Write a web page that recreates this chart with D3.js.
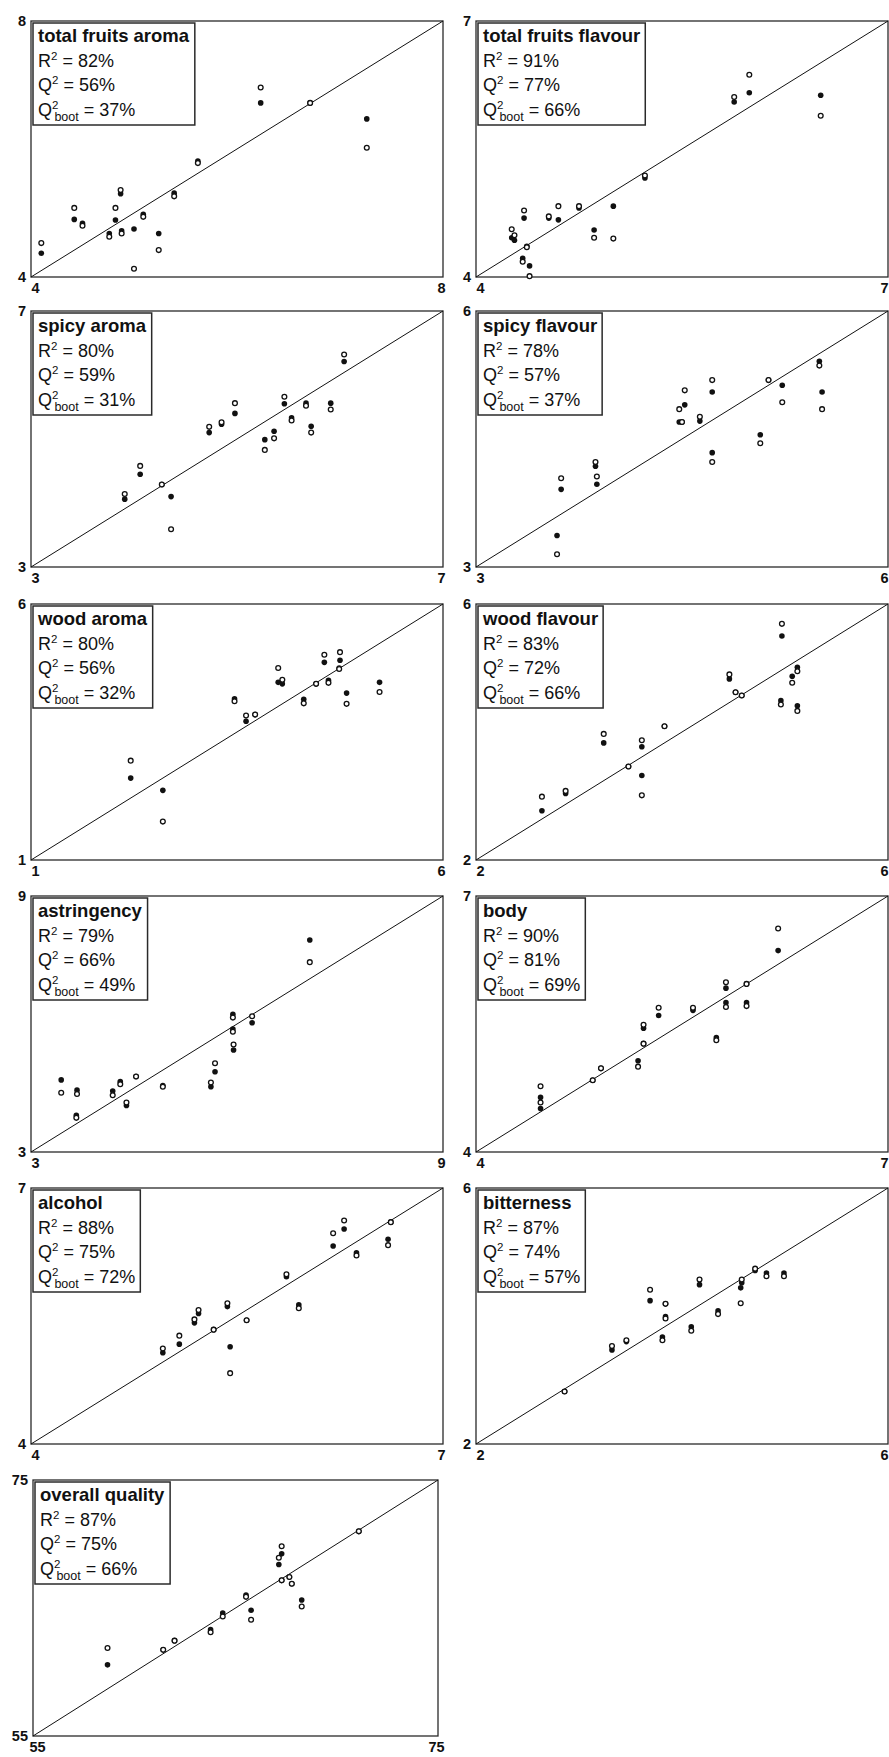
<!DOCTYPE html>
<html>
<head>
<meta charset="utf-8">
<script src="https://cdn.jsdelivr.net/npm/d3@7"></script>
<style>
  html, body { margin: 0; padding: 0; background: #fff; }
  svg { display: block; }
  text { font-family: "Liberation Sans", Arial, Helvetica, sans-serif; fill: #111; }
</style>
</head>
<body>
<svg id="chart" width="889" height="1757"></svg>
<script>
// ---------- data ----------
const panelNames = ["total fruits aroma", "total fruits flavour", "spicy aroma", "spicy flavour",
  "wood aroma", "wood flavour", "astringency", "body", "alcohol", "bitterness", "overall quality"];
const axisMin = [4, 4, 3, 3, 1, 2, 3, 4, 4, 2, 55];
const axisMax = [8, 7, 7, 6, 6, 6, 9, 7, 7, 6, 75];
const r2 = [82, 91, 80, 78, 80, 83, 79, 90, 88, 87, 87];
const q2 = [56, 77, 59, 57, 56, 72, 66, 81, 75, 74, 75];
const q2boot = [37, 66, 31, 37, 32, 66, 49, 69, 72, 57, 66];

// observed (x) values per panel
const observed = [
  [4.10, 4.42, 4.50, 4.76, 4.82, 4.87, 4.88, 5.00, 5.09, 5.24, 5.39, 5.62, 6.23, 6.71, 7.26],
  [4.26, 4.28, 4.35, 4.37, 4.34, 4.39, 4.53, 4.60, 4.75, 4.86, 5.00, 5.23, 5.88, 5.99, 6.51],
  [3.91, 4.06, 4.27, 4.36, 4.73, 4.85, 4.98, 5.27, 5.36, 5.46, 5.53, 5.67, 5.72, 5.91, 6.04],
  [3.62, 3.59, 3.87, 3.88, 4.48, 4.50, 4.52, 4.63, 4.72, 4.72, 5.07, 5.13, 5.23, 5.50, 5.52],
  [2.21, 2.60, 3.47, 3.61, 3.72, 4.00, 4.05, 4.31, 4.46, 4.56, 4.61, 4.75, 4.74, 4.83, 5.23],
  [2.64, 2.87, 3.24, 3.48, 3.61, 3.61, 3.83, 4.46, 4.52, 4.58, 4.97, 4.96, 5.07, 5.12, 5.12],
  [3.44, 3.67, 3.66, 4.19, 4.30, 4.39, 4.53, 4.92, 5.62, 5.68, 5.94, 5.94, 5.95, 6.22, 7.06],
  [4.47, 4.47, 4.85, 4.91, 5.18, 5.22, 5.22, 5.33, 5.58, 5.75, 5.82, 5.82, 5.97, 5.97, 6.20],
  [4.96, 5.08, 5.19, 5.22, 5.33, 5.43, 5.45, 5.57, 5.86, 5.95, 6.20, 6.28, 6.37, 6.60, 6.62],
  [2.86, 3.32, 3.46, 3.69, 3.81, 3.84, 3.84, 4.09, 4.17, 4.35, 4.58, 4.57, 4.71, 4.82, 4.99],
  [58.68, 61.43, 61.99, 63.77, 64.37, 65.52, 65.77, 67.14, 67.28, 67.28, 67.66, 67.78, 68.27, 71.09]
];
// fitted predictions (filled dots)
const fitted = [
  [4.37, 4.90, 4.84, 4.68, 4.89, 5.30, 4.72, 4.75, 4.98, 4.68, 5.31, 5.81, 6.72, 6.72, 6.47],
  [4.46, 4.43, 4.69, 4.36, 4.22, 4.13, 4.69, 4.67, 4.81, 4.55, 4.83, 5.16, 6.05, 6.16, 6.13],
  [4.06, 4.45, 4.29, 4.10, 5.10, 5.23, 5.40, 4.99, 5.12, 5.55, 5.33, 5.56, 5.20, 5.56, 6.21],
  [3.91, 3.37, 4.18, 3.97, 4.70, 4.70, 4.90, 4.71, 5.05, 4.34, 4.55, 5.19, 5.13, 5.41, 5.05],
  [2.60, 2.36, 4.15, 3.71, 3.84, 4.47, 4.44, 4.14, 4.44, 4.86, 4.51, 4.90, 4.75, 4.26, 4.47],
  [2.77, 3.04, 3.83, 3.46, 3.77, 3.32, 4.09, 4.83, 4.62, 4.57, 5.50, 4.49, 4.87, 5.01, 4.41],
  [4.69, 4.45, 3.86, 4.43, 4.65, 4.09, 4.77, 4.56, 4.53, 4.88, 6.23, 5.88, 5.39, 6.03, 7.97],
  [4.64, 4.51, 4.84, 4.98, 5.07, 5.45, 5.27, 5.60, 5.66, 5.34, 5.92, 5.75, 5.97, 5.75, 6.36],
  [5.07, 5.17, 5.42, 5.53, 5.34, 5.61, 5.14, 5.45, 5.96, 5.63, 6.32, 6.52, 6.24, 6.40, 6.60],
  [2.82, 3.47, 3.60, 4.24, 3.67, 4.19, 3.99, 3.83, 4.49, 4.08, 4.52, 4.44, 4.71, 4.67, 4.67],
  [60.56, 61.73, 62.45, 63.31, 64.60, 66.02, 64.83, 68.40, 69.23, 67.16, 67.42, 66.90, 65.63, 70.99]
];
// cross-validated predictions (open circles)
const crossValidated = [
  [4.53, 5.08, 4.80, 4.63, 5.08, 5.36, 4.68, 4.13, 4.94, 4.42, 5.26, 5.78, 6.96, 6.72, 6.02],
  [4.56, 4.49, 4.78, 4.35, 4.18, 4.01, 4.71, 4.83, 4.83, 4.46, 4.45, 5.19, 6.11, 6.37, 5.89],
  [4.14, 4.58, 4.29, 3.59, 5.19, 5.26, 5.56, 4.83, 5.01, 5.66, 5.29, 5.52, 5.10, 5.46, 6.32],
  [4.04, 3.15, 4.23, 4.06, 4.85, 4.70, 5.07, 4.76, 5.19, 4.23, 4.45, 5.19, 4.93, 5.36, 4.85],
  [2.94, 1.75, 4.10, 3.82, 3.84, 4.75, 4.52, 4.06, 4.44, 5.01, 4.46, 5.06, 4.73, 4.05, 4.28],
  [2.99, 3.08, 3.97, 3.46, 3.87, 3.01, 4.09, 4.90, 4.62, 4.57, 5.69, 4.43, 4.77, 4.95, 4.33],
  [4.39, 4.36, 3.80, 4.33, 4.59, 4.16, 4.77, 4.53, 4.63, 5.08, 6.15, 5.82, 5.52, 6.18, 7.45],
  [4.77, 4.58, 4.84, 4.98, 5.00, 5.49, 5.27, 5.69, 5.69, 5.31, 5.99, 5.70, 5.97, 5.71, 6.62],
  [5.12, 5.27, 5.46, 5.57, 5.34, 5.65, 4.83, 5.45, 5.99, 5.59, 6.47, 6.62, 6.21, 6.33, 6.60],
  [2.82, 3.53, 3.62, 4.41, 3.62, 4.19, 3.96, 3.77, 4.57, 4.03, 4.57, 4.20, 4.74, 4.62, 4.62],
  [61.88, 61.73, 62.45, 63.10, 64.34, 65.87, 64.08, 68.92, 69.83, 67.16, 67.42, 66.90, 65.12, 70.99]
];

// ---------- layout ----------
const colLeft = [31, 476];
const rowTop = [21, 311, 604, 896, 1188, 1480];
const boxW = 412, boxH = 256;
const pageW = 889;

const svg = d3.select("#chart");

panelNames.forEach((name, i) => {
  const col = i % 2, row = Math.floor(i / 2);
  const left = colLeft[col] + (i === 10 ? 2 : 0);
  const w = i === 10 ? 405 : boxW;
  const top = rowTop[row];
  const dom = [axisMin[i], axisMax[i]];

  const x = d3.scaleLinear().domain(dom).range([left, left + w]);
  const y = d3.scaleLinear().domain(dom).range([top + boxH, top]);

  const g = svg.append("g");

  // frame
  g.append("rect")
    .attr("x", left).attr("y", top).attr("width", w).attr("height", boxH)
    .attr("fill", "none").attr("stroke", "#2a2a2a").attr("stroke-width", 1.3);

  // diagonal y = x
  g.append("line")
    .attr("x1", x(dom[0])).attr("y1", y(dom[0]))
    .attr("x2", x(dom[1])).attr("y2", y(dom[1]))
    .attr("stroke", "#111").attr("stroke-width", 1);

  // axes (min/max labels only)
  const yAxis = g.append("g")
    .attr("transform", `translate(${left},0)`)
    .call(d3.axisLeft(y).tickValues(dom).tickSize(0).tickPadding(5).tickFormat(d3.format("d")));
  const xAxis = g.append("g")
    .attr("transform", `translate(0,${top + boxH})`)
    .call(d3.axisBottom(x).tickValues(dom).tickSize(0).tickPadding(6).tickFormat(d3.format("d")));
  [yAxis, xAxis].forEach(a => {
    a.select(".domain").remove();
    a.selectAll("text")
      .style("font-family", '"Liberation Sans", Arial, sans-serif')
      .style("font-size", "14.5px")
      .style("font-weight", "bold")
      .attr("fill", "#111");
  });
  xAxis.selectAll(".tick text").each(function (d, k) {
    const t = d3.select(this);
    if (k === 0) { t.attr("dx", 4); return; }
    // keep the max label inside the page
    const tx = x(d);
    const half = this.getComputedTextLength() / 2;
    const shift = Math.min(-2, pageW - 1 - (tx + half));
    t.attr("dx", shift);
  });

  // points: filled first, open circles (white fill) on top
  const pts = observed[i].map((o, k) => ({ o, f: fitted[i][k], c: crossValidated[i][k] }));
  g.append("g").selectAll("circle").data(pts).join("circle")
    .attr("cx", d => x(d.o)).attr("cy", d => y(d.f)).attr("r", 2.8)
    .attr("fill", "#111");
  g.append("g").selectAll("circle").data(pts).join("circle")
    .attr("cx", d => x(d.o)).attr("cy", d => y(d.c)).attr("r", 2.4)
    .attr("fill", "#fff").attr("stroke", "#111").attr("stroke-width", 1.3);

  // legend box
  const lg = g.append("g");
  const lx = left + 7, ly = top + 2;
  lg.append("text").attr("x", lx).attr("y", ly + 19)
    .style("font-size", "18.5px").style("font-weight", "bold").text(name);

  const fs = 18;
  const statLine = (yy, letter, val, boot) => {
    const t = lg.append("text").attr("x", lx).attr("y", yy).style("font-size", fs + "px");
    t.append("tspan").text(letter);
    t.append("tspan").attr("dy", -7).style("font-size", "11.5px").text("2");
    if (boot) {
      t.append("tspan").attr("dx", -4).attr("dy", 12).style("font-size", "12.5px").text("boot");
      t.append("tspan").attr("dy", -5).text(" = " + val + "%");
    } else {
      t.append("tspan").attr("dy", 7).text(" = " + val + "%");
    }
  };
  statLine(ly + 43.5, "R", r2[i], false);
  statLine(ly + 68, "Q", q2[i], false);
  statLine(ly + 92.5, "Q", q2boot[i], true);

  const bb = lg.node().getBBox();
  lg.insert("rect", ":first-child")
    .attr("x", left + 2).attr("y", ly)
    .attr("width", bb.x + bb.width + 5 - (left + 2))
    .attr("height", 102)
    .attr("fill", "#fff").attr("stroke", "#2a2a2a").attr("stroke-width", 1.5);
});
</script>
</body>
</html>
